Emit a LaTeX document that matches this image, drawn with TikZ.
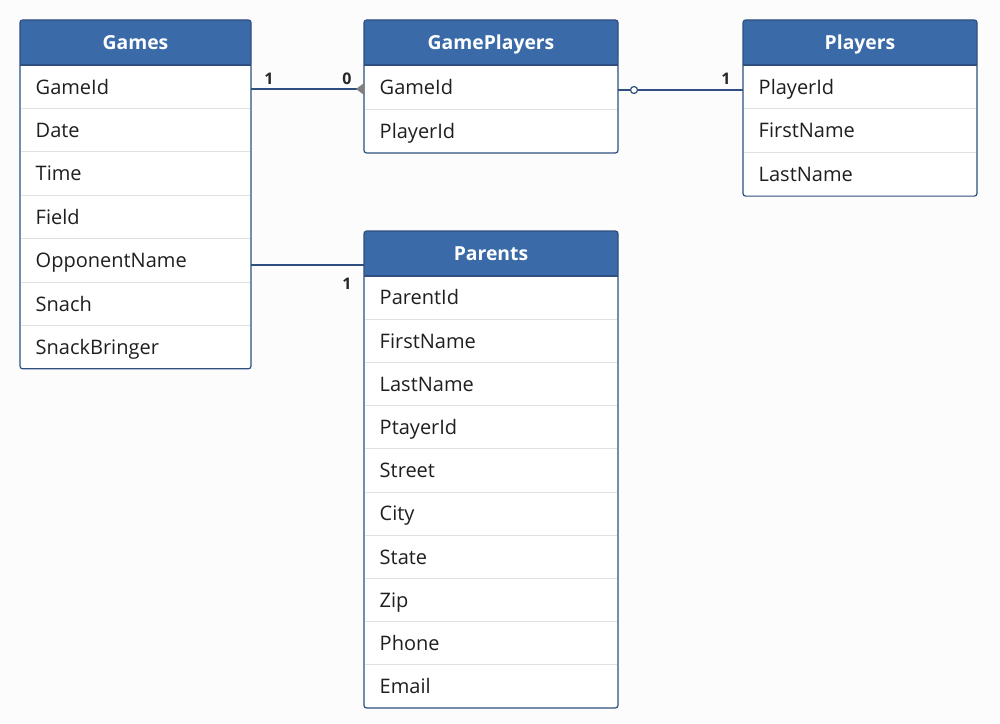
\documentclass[tikz,border=0pt]{standalone}
\usepackage{fontspec}
\setmainfont{Open Sans}
\begin{document}
\begin{tikzpicture}[x=0.75pt,y=-0.75pt,
  cell/.style={anchor=west,font=\fontsize{15}{17}\selectfont,text=black!88,text height=11pt,text depth=3pt},
  sep/.style={draw=black!12,line width=0.6pt},
  box/.style={draw=brd,line width=0.9pt,rounded corners=2pt},
  conn/.style={draw=brd,line width=1pt},
  card/.style={font=\fontsize{12}{14}\selectfont\bfseries,text=black!85}]
\definecolor{hdrc}{HTML}{3A6BA8}
\definecolor{brd}{HTML}{2E4F7F}
\useasboundingbox (0,0) rectangle (1000,724);
\fill[white!99!black] (0,0) rectangle (1000,724);
\newcommand{\erTable}[7]{%
  \foreach \t [count=\i] in {#7} {\xdef\nrows{\i}}%
  \pgfmathsetmacro{\ybot}{#4+45+\nrows*#5}%
  \fill[white] (#2,#4) rectangle (#3,\ybot);
  \fill[hdrc,rounded corners=2pt] (#2,#4) rectangle (#3,#4+45);
  \fill[hdrc] (#2,#4+20) rectangle (#3,#4+45);
  \node[text=white,font=\fontsize{14.5}{16}\selectfont\bfseries,text height=11pt,text depth=3pt] (#1h) at ({(#2+#3)/2},#4+24) {#6};
  \foreach \t [count=\i] in {#7} {
    \pgfmathsetmacro{\yy}{#4+47+(\i-0.5)*#5}
    \node[cell] (#1\i) at (#2+11,\yy) {\t};
    \ifnum\i>1 \draw[sep] (#2+1,{#4+45+(\i-1)*#5}) -- (#3-1,{#4+45+(\i-1)*#5}); \fi
  }
  \draw[brd,line width=0.9pt] (#2,#4+45) -- (#3,#4+45);
  \draw[box] (#2,#4) rectangle (#3,\ybot);
}
\erTable{g}{20}{251}{20}{43.4}{Games}{GameId,Date,Time,Field,OpponentName,Snach,SnackBringer}
\erTable{gp}{364}{618}{20}{44}{GamePlayers}{GameId,PlayerId}
\erTable{p}{743}{977}{20}{43.7}{Players}{PlayerId,FirstName,LastName}
\erTable{pa}{364}{618}{231}{43.2}{Parents}{ParentId,FirstName,LastName,PtayerId,Street,City,State,Zip,Phone,Email}
\coordinate (a1) at (251,89); \coordinate (a2) at (364,89);
\draw[conn] (a1) -- (a2);
\fill[gray] (356,89) -- (364,83) -- (364,95) -- cycle;
\node[card] (c1) at (269,79) {1};
\node[card] (c2) at (347,79) {0};
\coordinate (b1) at (618,90); \coordinate (b2) at (743,90);
\draw[conn] (b1) -- (b2);
\draw[brd,fill=white,line width=0.9pt] (634,90) circle (3.5);
\node[card] (c3) at (726,79) {1};
\coordinate (d1) at (251,265); \coordinate (d2) at (364,265);
\draw[conn] (d1) -- (d2);
\node[card] (c4) at (347,284) {1};
\end{tikzpicture}
\end{document}
